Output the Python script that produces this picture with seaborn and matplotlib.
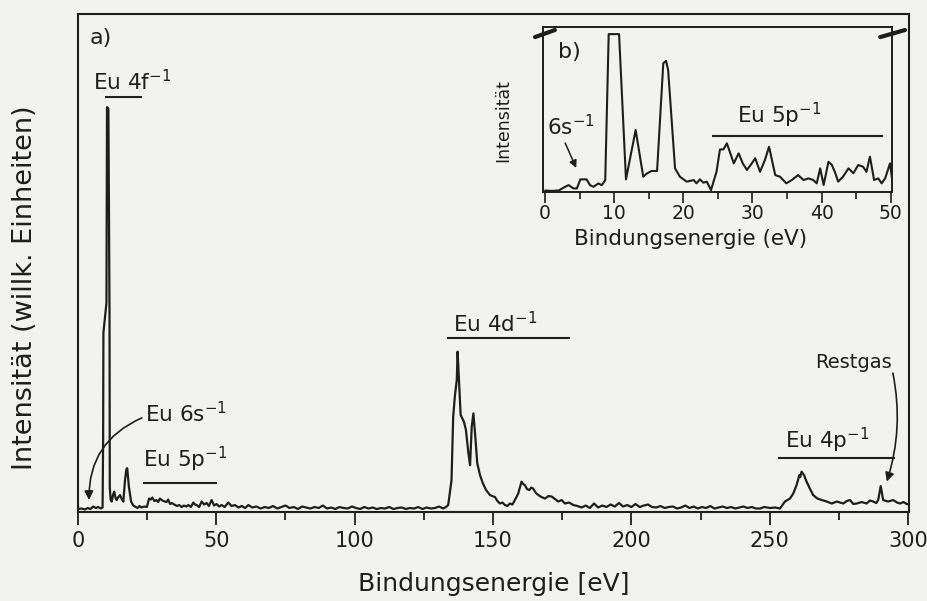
"""
Photoelectron spectrum of Eu: overview (a) with inset zoom on 0-50 eV (b).
"""

import matplotlib
matplotlib.use("Agg")
import matplotlib.pyplot as plt
from matplotlib.ticker import MultipleLocator
import pandas as pd
import seaborn as sns

# main spectrum (binding energy in eV, arbitrary intensity)
energy = [
    0.0, 1.3, 2.5, 3.5, 4.5, 5.5, 6.5, 7.3, 8.3, 8.9,
    9.1, 9.2, 10.3, 10.5, 11.0, 11.4, 11.5, 11.8, 12.2, 12.7,
    13.1, 13.6, 14.0, 14.6, 15.2, 15.8, 16.4, 17.0, 17.5, 17.8,
    18.4, 19.2, 20.0, 20.6, 21.5, 22.3, 23.0, 24.0, 24.9, 25.7,
    26.3, 26.9, 27.6, 28.4, 29.0, 29.6, 30.5, 31.4, 32.0, 32.6,
    33.3, 33.9, 34.8, 35.8, 36.6, 37.5, 38.3, 39.1, 39.9, 40.8,
    41.7, 42.3, 42.9, 43.8, 44.7, 45.6, 46.5, 47.3, 48.3, 49.2,
    50.1, 51.0, 51.9, 53.0, 54.3, 55.5, 56.7, 58.0, 59.2, 60.4,
    61.6, 63.0, 64.5, 66.0, 67.5, 69.0, 70.5, 72.0, 73.5, 75.0,
    76.5, 78.0, 79.5, 81.0, 82.5, 84.0, 85.5, 87.0, 88.5, 90.0,
    91.5, 93.0, 94.5, 96.0, 97.5, 99.0, 100.5, 102.0, 103.5, 105.0,
    106.5, 108.0, 109.5, 111.0, 112.5, 114.0, 115.5, 117.0, 118.5, 120.0,
    121.5, 123.0, 124.5, 126.0, 127.5, 129.0, 130.5, 132.0, 133.0, 133.8,
    135.0, 135.6, 136.2, 136.9, 137.2, 137.7, 138.3, 139.5, 140.2, 141.1,
    141.7, 142.3, 142.9, 143.5, 144.3, 145.3, 146.3, 147.5, 148.9, 150.7,
    151.6, 152.5, 153.4, 154.3, 155.2, 156.1, 157.0, 157.9, 159.1, 160.3,
    160.9, 161.5, 162.3, 163.1, 163.8, 164.5, 165.5, 166.4, 167.5, 168.8,
    170.0, 171.2, 172.4, 173.6, 174.8, 176.0, 177.5, 179.0, 180.5, 182.0,
    183.5, 185.0, 186.5, 188.0, 189.5, 191.0, 192.5, 194.0, 195.5, 197.0,
    198.5, 200.0, 201.5, 203.0, 204.5, 206.0, 207.5, 209.0, 210.5, 212.0,
    213.5, 215.0, 216.5, 218.0, 219.5, 221.0, 222.5, 224.0, 225.5, 227.0,
    228.5, 230.0, 231.5, 233.0, 234.5, 236.0, 237.5, 239.0, 240.5, 242.0,
    243.5, 245.0, 246.5, 248.0, 250.1, 252.0, 253.7, 255.5, 257.3, 258.5,
    259.7, 260.7, 261.0, 261.5, 262.4, 263.3, 264.5, 265.7, 267.2, 268.8,
    270.6, 272.4, 274.2, 276.6, 277.8, 279.0, 280.2, 281.4, 283.2, 285.0,
    286.2, 287.4, 288.5, 289.2, 290.1, 291.0, 292.8, 294.6, 296.0, 297.1,
    298.3, 299.5, 300.3,
]
intensity = [
    0.6, 0.7, 0.5, 0.8, 0.6, 1.1, 0.8, 1.0, 0.7, 0.9,
    15.0, 36.0, 42.0, 81.3, 81.0, 40.0, 5.0, 2.5, 2.1, 3.5,
    4.1, 2.8, 2.4, 3.0, 3.4, 2.6, 2.1, 6.4, 8.6, 8.8,
    5.1, 2.1, 1.3, 1.1, 0.8, 1.2, 0.9, 1.1, 1.0, 2.7,
    2.5, 2.9, 2.2, 2.4, 2.0, 2.7, 2.3, 2.1, 2.0, 2.5,
    1.6, 1.8, 1.5, 1.2, 1.4, 1.0, 1.3, 1.1, 1.4, 1.0,
    1.9, 1.5, 1.4, 1.0, 2.1, 1.5, 1.8, 1.2, 2.4, 1.3,
    1.6, 1.1, 1.4, 1.0, 1.9, 1.2, 1.4, 0.9, 1.2, 0.8,
    1.4, 0.9, 1.1, 0.7, 1.0, 0.8, 1.2, 0.7, 1.0, 1.3,
    0.8, 1.0, 0.6, 1.1, 0.9, 0.7, 1.0, 0.8, 1.3, 0.7,
    0.9, 0.6, 1.0, 0.8, 0.7, 1.1, 0.8, 0.6, 1.0, 0.7,
    0.9, 0.6, 0.8, 0.7, 1.0, 0.6, 0.8, 0.9, 0.6, 0.8,
    0.7, 1.0, 0.6, 0.9, 0.7, 0.8, 1.1, 0.7, 1.0, 1.4,
    6.4, 19.1, 23.2, 26.5, 32.2, 26.5, 19.5, 18.1, 16.5, 11.8,
    9.4, 17.1, 19.8, 15.8, 9.8, 7.4, 5.8, 4.4, 3.4, 3.0,
    2.2, 1.7, 1.9, 1.4, 1.2, 1.7, 1.5, 2.4, 3.7, 6.1,
    5.6, 5.4, 4.6, 4.4, 4.9, 4.7, 3.8, 3.4, 3.0, 2.7,
    3.2, 3.1, 2.6, 2.1, 2.4, 1.7, 1.9, 1.4, 1.2, 0.9,
    1.3, 0.8, 1.7, 0.9, 1.3, 1.0, 1.5, 1.1, 1.8, 1.1,
    1.4, 1.0, 1.6, 1.0, 1.3, 1.5, 1.0, 0.9, 1.2, 0.8,
    1.0, 1.1, 0.7, 0.9, 1.3, 0.8, 1.1, 0.7, 1.0, 0.8,
    1.2, 0.7, 0.9, 1.1, 0.8, 1.0, 0.7, 0.9, 1.1, 0.8,
    1.0, 0.7, 0.7, 1.0, 0.8, 0.9, 0.7, 2.1, 2.7, 3.7,
    5.4, 7.4, 7.0, 8.1, 7.4, 6.1, 4.7, 3.4, 2.7, 2.4,
    2.1, 1.7, 2.1, 1.7, 2.2, 2.4, 1.6, 1.7, 2.0, 1.7,
    2.3, 2.1, 1.8, 2.4, 5.2, 2.4, 2.1, 2.4, 1.9, 1.7,
    2.0, 1.6, 1.5,
]

# inset b): low binding energy part, own intensity scale (top clipped)
inset_energy = [
    0.0, 1.0, 2.0, 2.9, 3.4, 4.1, 4.6, 5.1, 6.0, 6.5,
    7.0, 7.7, 8.2, 8.7, 9.2, 10.7, 11.7, 13.1, 14.2, 14.7,
    15.4, 16.2, 17.1, 17.5, 17.8, 18.8, 19.5, 20.5, 21.5, 21.9,
    22.4, 22.9, 23.4, 24.0, 24.8, 25.3, 25.8, 26.3, 26.8, 27.3,
    28.0, 28.6, 29.2, 29.9, 30.4, 31.1, 31.8, 32.4, 33.3, 34.0,
    34.9, 35.7, 36.6, 37.4, 38.1, 38.8, 39.3, 39.8, 40.3, 41.0,
    41.5, 42.0, 42.4, 43.1, 43.9, 44.6, 45.3, 46.0, 46.5, 47.0,
    47.6, 48.2, 48.7, 49.2, 49.9, 50.2,
]
inset_counts = [
    0.7, 0.5, 0.8, 3.0, 4.0, 2.0, 2.0, 7.5, 7.5, 4.0,
    3.0, 5.0, 4.0, 7.0, 95.7, 95.7, 7.5, 37.5, 9.1, 11.0,
    12.6, 12.6, 78.0, 79.5, 73.9, 14.2, 9.1, 6.1, 7.1, 5.1,
    7.5, 5.5, 6.1, 1.0, 12.1, 25.7, 25.7, 29.4, 23.3, 17.2,
    23.3, 17.2, 13.2, 17.2, 20.3, 12.1, 19.2, 27.3, 10.1, 9.1,
    5.1, 7.1, 10.1, 7.1, 8.1, 7.1, 5.1, 14.2, 4.1, 18.2,
    16.2, 11.2, 6.1, 9.1, 14.2, 11.2, 16.2, 15.2, 12.1, 21.3,
    7.1, 8.1, 5.1, 8.1, 17.2, 8.0,
]

main_ticks = [0, 50, 100, 150, 200, 250, 300]
inset_ticks = [0, 10, 20, 30, 40, 50]

INK = "#1e1e1e"
PAPER = "#f2f2f0"

sns.set_theme(style="ticks")
plt.rcParams["font.family"] = ["DejaVu Sans"]
plt.rcParams["mathtext.fontset"] = "dejavusans"
plt.rcParams["text.color"] = INK

SUP = r"$^{\mathregular{-1}}$"

fig = plt.figure(figsize=(9.27, 6.01), dpi=100, facecolor=PAPER)

# ---- main panel a) ----
ax = fig.add_axes([0.0841, 0.1481, 0.8964, 0.8286], facecolor=PAPER)
df = pd.DataFrame({"energy": energy, "intensity": intensity})
sns.lineplot(data=df, x="energy", y="intensity", ax=ax, color=INK,
             linewidth=1.6, estimator=None, sort=False)

ax.set_xlim(0, 300.3)
ax.set_ylim(0, 100)
ax.set_xticks(main_ticks)
ax.xaxis.set_minor_locator(MultipleLocator(25))
ax.set_yticks([])
ax.tick_params(axis="x", which="major", direction="out", length=9, width=1.3,
               labelsize=15, pad=5, colors=INK)
ax.tick_params(axis="x", which="minor", direction="out", length=6, width=1.3,
               colors=INK)
for sp in ax.spines.values():
    sp.set_visible(True)
    sp.set_linewidth(1.5)
    sp.set_color(INK)

ax.set_xlabel("Bindungsenergie [eV]", fontsize=18, labelpad=15, color=INK)
ax.set_ylabel("Intensität (willk. Einheiten)", fontsize=19.5, color=INK)
ax.yaxis.set_label_coords(-0.048, 0.451)

ax.text(0.0144, 0.952, "a)", transform=ax.transAxes, fontsize=16,
        va="center", ha="left")

# peak labels with their range bars
ax.text(5.4, 84.7, "Eu 4f" + SUP, fontsize=15.5, va="baseline")
ax.hlines(83.3, 9.8, 23.1, color=INK, lw=1.5)

ax.text(24.2, 18.1, "Eu 6s" + SUP, fontsize=15.5, va="baseline")
ax.annotate("", xy=(4.0, 2.4), xytext=(23.1, 18.9),
            arrowprops=dict(arrowstyle="-|>", color=INK, lw=1.2,
                            mutation_scale=13, shrinkA=0, shrinkB=0,
                            connectionstyle="arc3,rad=0.33"))

ax.text(23.5, 9.0, "Eu 5p" + SUP, fontsize=15.5, va="baseline")
ax.hlines(5.8, 23.5, 50.3, color=INK, lw=1.5)

ax.text(135.5, 36.1, "Eu 4d" + SUP, fontsize=15.5, va="baseline")
ax.hlines(34.9, 133.4, 177.8, color=INK, lw=1.5)

ax.text(255.5, 12.9, "Eu 4p" + SUP, fontsize=15.5, va="baseline")
ax.hlines(10.8, 253.0, 295.3, color=INK, lw=1.5)

ax.text(266.4, 28.9, "Restgas", fontsize=14, va="baseline")
ax.annotate("", xy=(292.3, 6.1), xytext=(294.5, 27.9),
            arrowprops=dict(arrowstyle="-|>", color=INK, lw=1.2,
                            mutation_scale=13, shrinkA=0, shrinkB=0,
                            connectionstyle="arc3,rad=-0.13"))

# ---- inset b) ----
axin = fig.add_axes([0.5858, 0.681, 0.3765, 0.274], facecolor=PAPER)
dfi = pd.DataFrame({"energy": inset_energy, "counts": inset_counts})
sns.lineplot(data=dfi, x="energy", y="counts", ax=axin, color=INK,
             linewidth=1.5, estimator=None, sort=False)

axin.set_xlim(-0.3, 50.2)
axin.set_ylim(0, 100)
axin.set_xticks(inset_ticks)
axin.xaxis.set_minor_locator(MultipleLocator(5))
axin.set_yticks([])
axin.tick_params(axis="x", which="major", direction="out", length=8, width=1.2,
                 labelsize=13.5, pad=1, colors=INK)
axin.tick_params(axis="x", which="minor", direction="out", length=5, width=1.2,
                 colors=INK)
for sp in axin.spines.values():
    sp.set_visible(True)
    sp.set_linewidth(1.4)
    sp.set_color(INK)

axin.set_xlabel("Bindungsenergie (eV)", fontsize=15.5, color=INK)
axin.xaxis.set_label_coords(0.424, -0.225)
axin.set_ylabel("Intensität", fontsize=12.5, color=INK)
axin.yaxis.set_label_coords(-0.089, 0.43)

axin.text(1.9, 84.8, "b)", fontsize=16, va="center")
axin.text(0.3, 34.4, "6s" + SUP, fontsize=15.5, va="baseline")
axin.annotate("", xy=(4.5, 14.4), xytext=(2.9, 29.6),
              arrowprops=dict(arrowstyle="-|>", color=INK, lw=1.1,
                              mutation_scale=11, shrinkA=0, shrinkB=0))
axin.text(27.8, 41.7, "Eu 5p" + SUP, fontsize=15.5, va="baseline")
axin.hlines(33.8, 24.2, 48.9, color=INK, lw=1.5)

# axis-break marks on the clipped Eu 4f peak
for xs in ([-0.023, 0.034], [0.966, 1.037]):
    axin.plot(xs, [0.939, 0.982], transform=axin.transAxes, color=INK,
              lw=3, clip_on=False, zorder=5)

fig.savefig("out.png", dpi=100, facecolor=PAPER)
